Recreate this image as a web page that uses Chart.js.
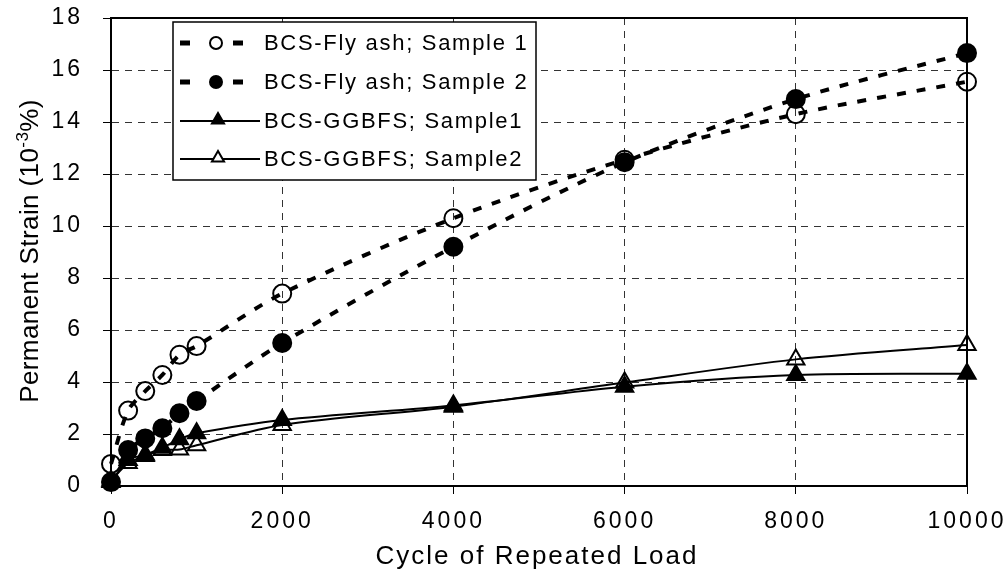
<!DOCTYPE html>
<html>
<head>
<meta charset="utf-8">
<script src="https://cdn.jsdelivr.net/npm/chart.js@4.4.1/dist/chart.umd.min.js"></script>
<style>
  html, body { margin: 0; padding: 0; background: #fff; }
  #wrap { width: 1008px; height: 571px; }
</style>
</head>
<body>
<div id="wrap"><canvas id="strainChart" width="1008" height="571"></canvas></div>
<script>
// data
const cycles = [0, 200, 400, 600, 800, 1000, 2000, 4000, 6000, 8000, 10000];
const flyAsh1 = [0.85, 2.9, 3.65, 4.27, 5.05, 5.38, 7.4, 10.3, 12.55, 14.3, 15.55];
const flyAsh2 = [0.15, 1.38, 1.83, 2.22, 2.8, 3.27, 5.5, 9.2, 12.45, 14.88, 16.65];
const ggbfs1 = [0.15, 1.0, 1.2, 1.47, 1.8, 2.03, 2.54, 3.1, 3.82, 4.27, 4.32];
const ggbfs2 = [0.2, 0.88, 1.15, 1.38, 1.4, 1.57, 2.35, 3.05, 3.98, 4.87, 5.42];

const seriesNames = ['BCS-Fly ash; Sample 1', 'BCS-Fly ash; Sample 2', 'BCS-GGBFS; Sample1', 'BCS-GGBFS; Sample2'];
const xTicks = [0, 2000, 4000, 6000, 8000, 10000];
const yTicks = [0, 2, 4, 6, 8, 10, 12, 14, 16, 18];

const FONT = '"Liberation Sans", Arial, sans-serif';

function toPoints(ys) {
    return cycles.map((c, i) => ({ x: c, y: ys[i] }));
}

// marker helpers for the legend
function drawCircle(ctx, x, y, r, filled) {
    ctx.beginPath();
    ctx.arc(x, y, r, 0, Math.PI * 2);
    if (filled) { ctx.fillStyle = '#000'; ctx.fill(); }
    ctx.lineWidth = 2;
    ctx.strokeStyle = '#000';
    ctx.stroke();
}
function drawTriangle(ctx, x, y, r, filled) {
    ctx.beginPath();
    let rad = 0;
    ctx.moveTo(x + Math.sin(rad) * r, y - Math.cos(rad) * r);
    rad += Math.PI * 2 / 3;
    ctx.lineTo(x + Math.sin(rad) * r, y - Math.cos(rad) * r);
    rad += Math.PI * 2 / 3;
    ctx.lineTo(x + Math.sin(rad) * r, y - Math.cos(rad) * r);
    ctx.closePath();
    if (filled) { ctx.fillStyle = '#000'; ctx.fill(); }
    else { ctx.fillStyle = '#fff'; ctx.fill(); }
    ctx.lineWidth = 2;
    ctx.strokeStyle = '#000';
    ctx.stroke();
}

const spacingPlugin = {
    id: 'spacing',
    beforeDraw(chart) {
        chart.ctx.letterSpacing = '3px';
    }
};

const framePlugin = {
    id: 'frame',
    afterDraw(chart) {
        const ctx = chart.ctx;
        const a = chart.chartArea;
        ctx.save();
        ctx.letterSpacing = '0px';
        ctx.setLineDash([]);
        // top and right border
        ctx.strokeStyle = '#000';
        ctx.lineWidth = 2;
        ctx.beginPath();
        ctx.moveTo(a.left, a.top);
        ctx.lineTo(a.right, a.top);
        ctx.lineTo(a.right, a.bottom);
        ctx.stroke();

        // legend box
        const lx = 173, ly = 22, lw = 363, lh = 158;
        ctx.fillStyle = '#fff';
        ctx.fillRect(lx, ly, lw, lh);
        ctx.lineWidth = 1.5;
        ctx.strokeRect(lx, ly, lw, lh);

        const rows = [43, 82, 121, 159];
        rows.forEach((ry, i) => {
            if (i < 2) {
                ctx.fillStyle = '#000';
                ctx.fillRect(180, ry - 2.5, 10, 5);
                ctx.fillRect(233, ry - 2.5, 10, 5);
                drawCircle(ctx, 216, ry, 6, i === 1);
            } else {
                ctx.beginPath();
                ctx.moveTo(180, ry);
                ctx.lineTo(260, ry);
                ctx.lineWidth = 2;
                ctx.strokeStyle = '#000';
                ctx.stroke();
                drawTriangle(ctx, 218, ry - 1, 7, i === 2);
            }
            ctx.fillStyle = '#000';
            ctx.font = '22px ' + FONT;
            ctx.letterSpacing = '1.7px';
            ctx.textAlign = 'left';
            ctx.textBaseline = 'middle';
            ctx.fillText(seriesNames[i], 264, ry + 1);
        });

        // x axis title
        ctx.font = '26px ' + FONT;
        ctx.letterSpacing = '2px';
        ctx.textAlign = 'center';
        ctx.textBaseline = 'alphabetic';
        ctx.fillText('Cycle of Repeated Load', 537, 564);

        // y axis title with superscript
        ctx.translate(38, 251);
        ctx.rotate(-Math.PI / 2);
        ctx.letterSpacing = '0.4px';
        const main1 = 'Permanent Strain (10';
        const sup = '-3';
        const main2 = '%)';
        ctx.font = '26px ' + FONT;
        const w1 = ctx.measureText(main1).width;
        const w3 = ctx.measureText(main2).width;
        ctx.font = '17px ' + FONT;
        const w2 = ctx.measureText(sup).width;
        let sx = -(w1 + w2 + w3) / 2;
        ctx.textAlign = 'left';
        ctx.font = '26px ' + FONT;
        ctx.fillText(main1, sx, 0);
        sx += w1;
        ctx.font = '17px ' + FONT;
        ctx.fillText(sup, sx, -10);
        sx += w2;
        ctx.font = '26px ' + FONT;
        ctx.fillText(main2, sx, 0);
        ctx.restore();
    }
};

const gridOpts = {
    color: '#333',
    lineWidth: 1,
    tickLength: 8,
    tickBorderDash: [],
    tickColor: '#000',
    tickWidth: 1
};

const ctx = document.getElementById('strainChart').getContext('2d');

const strainChart = new Chart(ctx, {
    type: 'line',
    data: {
        datasets: [
            {
                label: seriesNames[0],
                data: toPoints(flyAsh1),
                borderColor: '#000',
                borderWidth: 4,
                borderDash: [9, 11],
                pointStyle: 'circle',
                pointRadius: 9,
                pointBorderWidth: 2,
                pointBackgroundColor: 'rgba(0,0,0,0)',
                pointBorderColor: '#000',
                tension: 0.3,
                fill: false,
                clip: false
            },
            {
                label: seriesNames[1],
                data: toPoints(flyAsh2),
                borderColor: '#000',
                borderWidth: 4,
                borderDash: [9, 11],
                pointStyle: 'circle',
                pointRadius: 9,
                pointBorderWidth: 2,
                pointBackgroundColor: '#000',
                pointBorderColor: '#000',
                tension: 0.3,
                fill: false,
                clip: false
            },
            {
                label: seriesNames[2],
                data: toPoints(ggbfs1),
                borderColor: '#000',
                borderWidth: 2,
                pointStyle: 'triangle',
                pointRadius: 10,
                pointBorderWidth: 2,
                pointBackgroundColor: '#000',
                pointBorderColor: '#000',
                tension: 0.3,
                fill: false,
                clip: false
            },
            {
                label: seriesNames[3],
                data: toPoints(ggbfs2),
                borderColor: '#000',
                borderWidth: 2,
                pointStyle: 'triangle',
                pointRadius: 10,
                pointBorderWidth: 2,
                pointBackgroundColor: 'rgba(0,0,0,0)',
                pointBorderColor: '#000',
                tension: 0.3,
                fill: false,
                clip: false
            }
        ]
    },
    options: {
        responsive: false,
        animation: false,
        layout: { padding: { left: 0, top: 18, right: 41, bottom: 0 } },
        plugins: {
            legend: { display: false },
            tooltip: { enabled: false }
        },
        scales: {
            x: {
                type: 'linear',
                min: 0,
                max: 10000,
                afterBuildTicks: (scale) => { scale.ticks = xTicks.map(v => ({ value: v })); },
                afterFit: (scale) => {
                    scale.height = 85;
                    scale.paddingLeft = 0;
                    scale.paddingRight = 0;
                },
                grid: gridOpts,
                border: { color: '#000', width: 2, dash: [7, 6] },
                ticks: {
                    color: '#000',
                    font: { family: FONT, size: 23 },
                    padding: 14,
                    maxRotation: 0,
                    callback: (v) => String(v)
                }
            },
            y: {
                type: 'linear',
                min: 0,
                max: 18,
                afterBuildTicks: (scale) => { scale.ticks = yTicks.map(v => ({ value: v })); },
                afterFit: (scale) => {
                    scale.width = 111;
                    scale.paddingTop = 0;
                    scale.paddingBottom = 0;
                },
                grid: gridOpts,
                border: { color: '#000', width: 2, dash: [7, 6] },
                ticks: {
                    color: '#000',
                    font: { family: FONT, size: 23 },
                    padding: 20,
                    callback: (v) => String(v)
                }
            }
        }
    },
    plugins: [spacingPlugin, framePlugin]
});
</script>
</body>
</html>
